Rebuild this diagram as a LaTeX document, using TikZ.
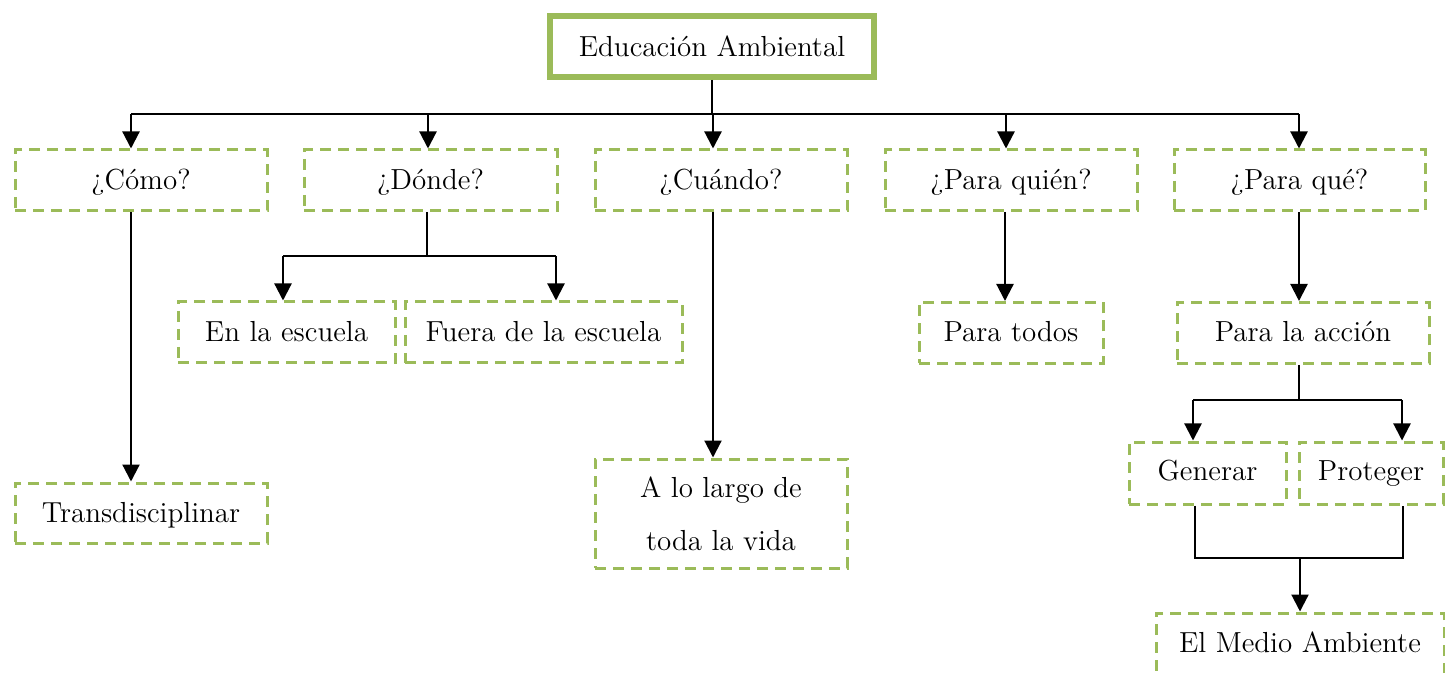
\documentclass[tikz,border=0pt]{standalone}
\usepackage{fontspec}
\usetikzlibrary{arrows.meta,calc}
\definecolor{olive}{HTML}{9BBB59}
\begin{document}
\begin{tikzpicture}[x=0.5pt,y=-0.5pt,
  font=\fontsize{14.5}{26.5}\selectfont,
  mainbox/.style={draw=olive,line width=3pt,minimum width=162pt,minimum height=30.5pt,inner sep=0pt,text height=11pt,text depth=0.5pt},
  dbox/.style={draw=olive,line width=1.5pt,dash pattern=on 5.5pt off 3.5pt,minimum height=30.5pt,inner sep=0pt,align=center},
  sbox/.style={dbox,text height=9.5pt,text depth=0.5pt},
  link/.style={draw=black,line width=1.1pt},
  arr/.style={link,-{Triangle[length=8.5pt,width=8.5pt]}}]
\useasboundingbox (0,0) rectangle (1445,673);
\node[mainbox] (top) at (712,46.5) {Educación Ambiental};
\node[sbox,minimum width=126pt] (como) at (141,180.5) {¿Cómo?};
\node[sbox,minimum width=126.5pt] (donde) at (430.5,180.5) {¿Dónde?};
\node[sbox,minimum width=126pt] (cuando) at (721,180.5) {¿Cuándo?};
\node[sbox,minimum width=126pt] (quien) at (1011,180.5) {¿Para quién?};
\node[sbox,minimum width=125.5pt] (paraque) at (1299.5,180.5) {¿Para qué?};
\node[sbox,minimum width=108.5pt] (escuela) at (286.5,332.5) {En la escuela};
\node[sbox,minimum width=138.5pt] (fuera) at (543.5,332.5) {Fuera de la escuela};
\node[sbox,minimum width=92pt] (todos) at (1011,333) {Para todos};
\node[sbox,minimum width=126pt] (accion) at (1303,333) {Para la acción};
\node[sbox,minimum width=126pt,minimum height=30pt] (trans) at (141,513) {Transdisciplinar};
\node[dbox,minimum width=126pt,minimum height=54.5pt] (largo) at (721,513.5) {A lo largo de\\toda la vida};
\node[sbox,minimum width=78.5pt,minimum height=31pt,text height=8pt] (generar) at (1207.5,473) {Generar};
\node[sbox,minimum width=72pt,minimum height=31pt,text height=8pt] (proteger) at (1371,473) {Proteger};
\node[sbox,minimum width=144pt] (medio) at (1300,643.5) {El Medio Ambiente};
\coordinate (bus) at (712,114);
\coordinate (dbus) at (427,256);
\coordinate (abus) at (1299,400);
\coordinate (gbus) at (1299,558);
% top level
\draw[link] (top.south) -- (top.south |- bus);
\draw[link] ([xshift=-5pt]como.north |- bus) -- ([xshift=-2pt]accion.north |- bus);
\draw[arr] ([xshift=-5pt]como.north |- bus) -- ([xshift=-5pt]como.north);
\draw[arr] ([xshift=-1.25pt]donde.north |- bus) -- ([xshift=-1.25pt]donde.north);
\draw[arr] ([xshift=-4pt]cuando.north |- bus) -- ([xshift=-4pt]cuando.north);
\draw[arr] ([xshift=-2.5pt]quien.north |- bus) -- ([xshift=-2.5pt]quien.north);
\draw[arr] ([xshift=-2pt]accion.north |- bus) -- ([xshift=-2pt]accion.north |- paraque.north);
% como
\draw[arr] ([xshift=-5pt]como.south) -- ([xshift=-5pt]trans.north);
% donde
\draw[link] ([xshift=-1.75pt]donde.south) -- ([xshift=-1.75pt]donde.south |- dbus);
\draw[link] ([xshift=-1.75pt]escuela.north |- dbus) -- ([xshift=6.25pt]fuera.north |- dbus);
\draw[arr] ([xshift=-1.75pt]escuela.north |- dbus) -- ([xshift=-1.75pt]escuela.north);
\draw[arr] ([xshift=6.25pt]fuera.north |- dbus) -- ([xshift=6.25pt]fuera.north);
% cuando
\draw[arr] ([xshift=-4pt]cuando.south) -- ([xshift=-4pt]largo.north);
% quien
\draw[arr] ([xshift=-3pt]quien.south) -- ([xshift=-3pt]todos.north);
% para que
\draw[arr] ([xshift=-2pt]accion.north |- paraque.south) -- ([xshift=-2pt]accion.north);
\draw[link] ([xshift=-2pt]accion.south) -- ([xshift=-2pt]accion.south |- abus);
\draw[link] ([xshift=-7.25pt]generar.north |- abus) -- ([xshift=15.5pt]proteger.north |- abus);
\draw[arr] ([xshift=-7.25pt]generar.north |- abus) -- ([xshift=-7.25pt]generar.north);
\draw[arr] ([xshift=15.5pt]proteger.north |- abus) -- ([xshift=15.5pt]proteger.north);
\draw[link] ([xshift=-6.25pt]generar.south) |- ([xshift=16pt]proteger.south |- gbus) -- ([xshift=16pt]proteger.south);
\draw[arr] (medio.north |- gbus) -- (medio.north);
\end{tikzpicture}
\end{document}
